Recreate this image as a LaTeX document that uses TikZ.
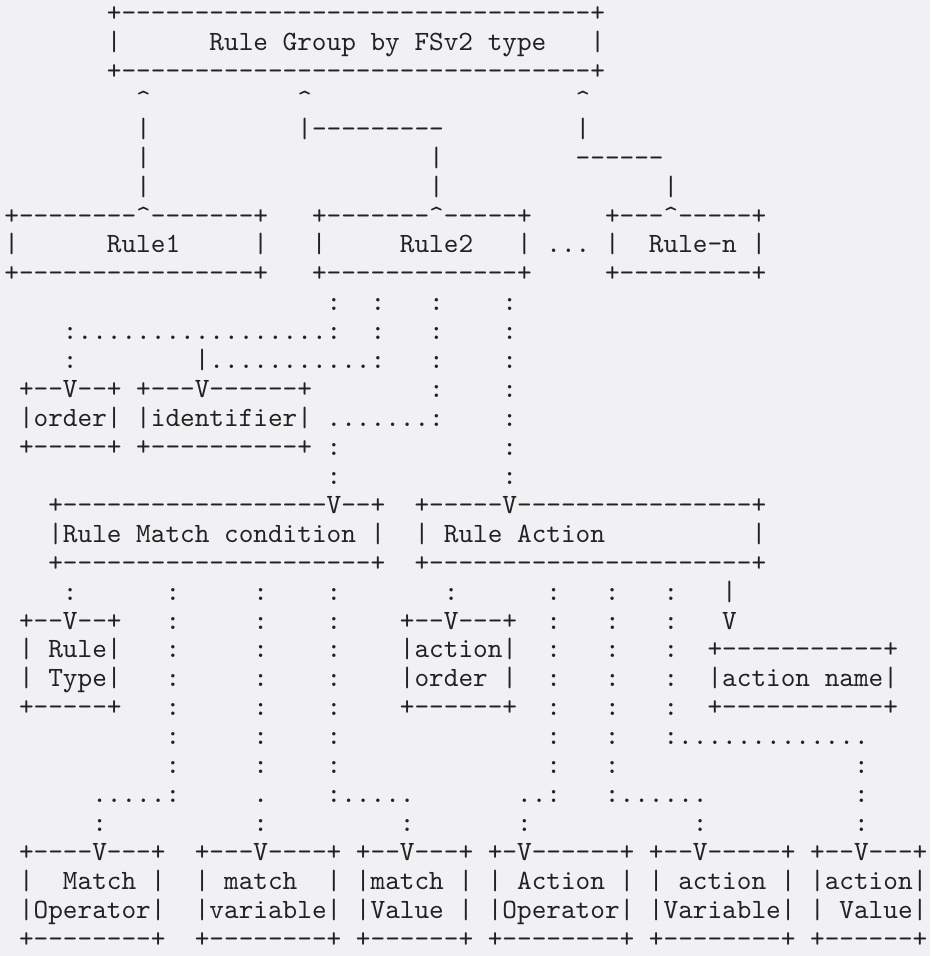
\documentclass[tikz,border=0pt]{standalone}
\usepackage{fontspec}
\newfontfamily\asciifont{lmmono10-regular.otf}
\definecolor{paper}{RGB}{241,240,243}
\definecolor{ink}{RGB}{34,34,34}
\ExplSyntaxOn
\cs_new_protected:Npn \gp #1 {\prg_replicate:nn{#1}{\hphantom{x}}}
\cs_new_protected:Npn \dsh #1 {\prg_replicate:nn{#1}{-\kern0pt}}
\cs_new_protected:Npn \dts #1 {\prg_replicate:nn{#1}{.\kern0pt}}
\ExplSyntaxOff
\newcommand\crt{\textasciicircum}
\newcommand\rowy[1]{21.5+28.93*#1}
\tikzset{
  asciirow/.style={anchor=base west, inner sep=0pt, outer sep=0pt, text=ink,
    font=\asciifont\fontsize{27.905pt}{29pt}\selectfont\frenchspacing}
}
\begin{document}
\begin{tikzpicture}[x=1pt,y=-1pt]
\fill[paper] (0,0) rectangle (930,956);
\useasboundingbox (0,0) rectangle (930,956);
\node[asciirow] (r00) at (4.37,{\rowy{0}}) {\gp{7}+\dsh{32}+};
\node[asciirow] (r01) at (4.37,{\rowy{1}}) {\gp{7}|\gp{6}Rule Group by FSv2 type\gp{3}|};
\node[asciirow] (r02) at (4.37,{\rowy{2}}) {\gp{7}+\dsh{32}+};
\node[asciirow] (r03) at (4.37,{\rowy{3}}) {\gp{9}\crt\gp{10}\crt\gp{18}\crt};
\node[asciirow] (r04) at (4.37,{\rowy{4}}) {\gp{9}|\gp{10}|\dsh{9}\gp{9}|};
\node[asciirow] (r05) at (4.37,{\rowy{5}}) {\gp{9}|\gp{19}|\gp{9}\dsh{6}};
\node[asciirow] (r06) at (4.37,{\rowy{6}}) {\gp{9}|\gp{19}|\gp{15}|};
\node[asciirow] (r07) at (4.37,{\rowy{7}}) {+\dsh{8}\crt\dsh{7}+\gp{3}+\dsh{7}\crt\dsh{5}+\gp{5}+\dsh{3}\crt\dsh{5}+};
\node[asciirow] (r08) at (4.37,{\rowy{8}}) {|\gp{6}Rule1\gp{5}|\gp{3}|\gp{5}Rule2\gp{3}|\gp{1}\dts{3}\gp{1}|\gp{2}Rule-n\gp{1}|};
\node[asciirow] (r09) at (4.37,{\rowy{9}}) {+\dsh{16}+\gp{3}+\dsh{13}+\gp{5}+\dsh{9}+};
\node[asciirow] (r10) at (4.37,{\rowy{10}}) {\gp{22}:\gp{2}:\gp{3}:\gp{4}:};
\node[asciirow] (r11) at (4.37,{\rowy{11}}) {\gp{4}:\dts{17}:\gp{2}:\gp{3}:\gp{4}:};
\node[asciirow] (r12) at (4.37,{\rowy{12}}) {\gp{4}:\gp{8}|\dts{11}:\gp{3}:\gp{4}:};
\node[asciirow] (r13) at (4.37,{\rowy{13}}) {\gp{1}+\dsh{2}V\dsh{2}+\gp{1}+\dsh{3}V\dsh{6}+\gp{8}:\gp{4}:};
\node[asciirow] (r14) at (4.37,{\rowy{14}}) {\gp{1}|order|\gp{1}|identifier|\gp{1}\dts{7}:\gp{4}:};
\node[asciirow] (r15) at (4.37,{\rowy{15}}) {\gp{1}+\dsh{5}+\gp{1}+\dsh{10}+\gp{1}:\gp{11}:};
\node[asciirow] (r16) at (4.37,{\rowy{16}}) {\gp{22}:\gp{11}:};
\node[asciirow] (r17) at (4.37,{\rowy{17}}) {\gp{3}+\dsh{18}V\dsh{2}+\gp{2}+\dsh{5}V\dsh{16}+};
\node[asciirow] (r18) at (4.37,{\rowy{18}}) {\gp{3}|Rule Match condition\gp{1}|\gp{2}|\gp{1}Rule Action\gp{10}|};
\node[asciirow] (r19) at (4.37,{\rowy{19}}) {\gp{3}+\dsh{21}+\gp{2}+\dsh{22}+};
\node[asciirow] (r20) at (4.37,{\rowy{20}}) {\gp{4}:\gp{6}:\gp{5}:\gp{4}:\gp{7}:\gp{6}:\gp{3}:\gp{3}:\gp{3}|};
\node[asciirow] (r21) at (4.37,{\rowy{21}}) {\gp{1}+\dsh{2}V\dsh{2}+\gp{3}:\gp{5}:\gp{4}:\gp{4}+\dsh{2}V\dsh{3}+\gp{2}:\gp{3}:\gp{3}:\gp{3}V};
\node[asciirow] (r22) at (4.37,{\rowy{22}}) {\gp{1}|\gp{1}Rule|\gp{3}:\gp{5}:\gp{4}:\gp{4}|action|\gp{2}:\gp{3}:\gp{3}:\gp{2}+\dsh{11}+};
\node[asciirow] (r23) at (4.37,{\rowy{23}}) {\gp{1}|\gp{1}Type|\gp{3}:\gp{5}:\gp{4}:\gp{4}|order\gp{1}|\gp{2}:\gp{3}:\gp{3}:\gp{2}|action name|};
\node[asciirow] (r24) at (4.37,{\rowy{24}}) {\gp{1}+\dsh{5}+\gp{3}:\gp{5}:\gp{4}:\gp{4}+\dsh{6}+\gp{2}:\gp{3}:\gp{3}:\gp{2}+\dsh{11}+};
\node[asciirow] (r25) at (4.37,{\rowy{25}}) {\gp{11}:\gp{5}:\gp{4}:\gp{14}:\gp{3}:\gp{3}:\dts{13}};
\node[asciirow] (r26) at (4.37,{\rowy{26}}) {\gp{11}:\gp{5}:\gp{4}:\gp{14}:\gp{3}:\gp{16}:};
\node[asciirow] (r27) at (4.37,{\rowy{27}}) {\gp{6}\dts{5}:\gp{5}.\gp{4}:\dts{5}\gp{7}\dts{2}:\gp{3}:\dts{6}\gp{10}:};
\node[asciirow] (r28) at (4.37,{\rowy{28}}) {\gp{6}:\gp{10}:\gp{9}:\gp{7}:\gp{11}:\gp{10}:};
\node[asciirow] (r29) at (4.37,{\rowy{29}}) {\gp{1}+\dsh{4}V\dsh{3}+\gp{2}+\dsh{3}V\dsh{4}+\gp{1}+\dsh{2}V\dsh{3}+\gp{1}+\dsh{1}V\dsh{6}+\gp{1}+\dsh{2}V\dsh{5}+\gp{1}+\dsh{2}V\dsh{3}+};
\node[asciirow] (r30) at (4.37,{\rowy{30}}) {\gp{1}|\gp{2}Match\gp{1}|\gp{2}|\gp{1}match\gp{2}|\gp{1}|match\gp{1}|\gp{1}|\gp{1}Action\gp{1}|\gp{1}|\gp{1}action\gp{1}|\gp{1}|action|};
\node[asciirow] (r31) at (4.37,{\rowy{31}}) {\gp{1}|Operator|\gp{2}|variable|\gp{1}|Value\gp{1}|\gp{1}|Operator|\gp{1}|Variable|\gp{1}|\gp{1}Value|};
\node[asciirow, text depth=0pt] (r32) at (4.37,{\rowy{32}}) {\gp{1}+\dsh{8}+\gp{2}+\dsh{8}+\gp{1}+\dsh{6}+\gp{1}+\dsh{8}+\gp{1}+\dsh{8}+\gp{1}+\dsh{6}+};
\end{tikzpicture}
\end{document}
